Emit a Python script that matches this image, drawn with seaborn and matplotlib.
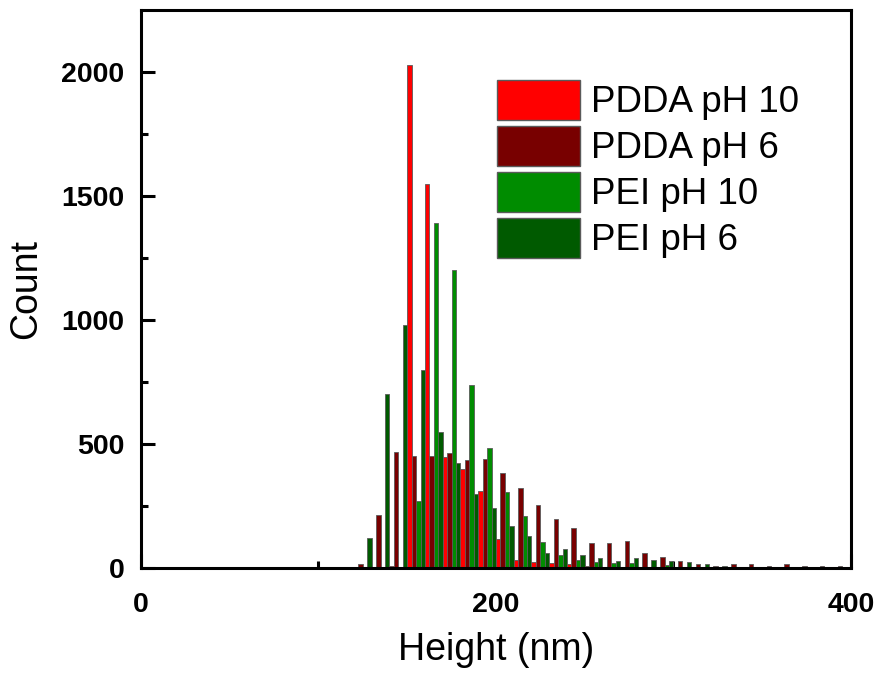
import numpy as np
import pandas as pd
import matplotlib
matplotlib.use("Agg")
import matplotlib.pyplot as plt
from matplotlib.patches import Patch
import seaborn as sns

# ---- data ----
bin_left = [120, 130, 140, 150, 160, 170, 180, 190, 200, 210, 220, 230, 240, 250,
            260, 270, 280, 290, 300, 310, 320, 330, 340, 350, 360, 370, 380, 390]
pdda_ph10 = [0, 0, 8, 2030, 1550, 449, 398, 312, 117, 32, 26, 22, 16, 8,
             0, 0, 0, 0, 0, 0, 0, 0, 0, 0, 0, 0, 0, 0]
pdda_ph6 = [15, 212, 466, 453, 452, 465, 435, 438, 382, 321, 255, 196, 161, 100,
            102, 107, 59, 46, 30, 18, 10, 15, 15, 7, 15, 7, 10, 7]
pei_ph10 = [0, 0, 0, 270, 1390, 1200, 738, 482, 308, 210, 106, 52, 32, 23,
            19, 19, 5, 12, 0, 0, 0, 0, 0, 0, 0, 0, 0, 0]
pei_ph6 = [122, 700, 980, 800, 550, 422, 298, 241, 169, 129, 62, 75, 54, 39,
           29, 39, 32, 28, 26, 15, 7, 5, 4, 4, 4, 4, 4, 0]
series_names = ["PDDA pH 10", "PDDA pH 6", "PEI pH 10", "PEI pH 6"]
series_colors = ["#FF0000", "#780000", "#008C00", "#005A00"]
bin_width = 10

rows = []
for name, vals in zip(series_names, [pdda_ph10, pdda_ph6, pei_ph10, pei_ph6]):
    for b, v in zip(bin_left, vals):
        rows.append({"Height": b + bin_width / 2, "Count": v, "Series": name})
df = pd.DataFrame(rows)

sns.set_theme(style="ticks")
plt.rcParams["font.family"] = ["Liberation Sans", "DejaVu Sans"]
plt.rcParams["text.color"] = "black"
plt.rcParams["axes.labelcolor"] = "black"
plt.rcParams["xtick.color"] = "black"
plt.rcParams["ytick.color"] = "black"

fig = plt.figure(figsize=(8.79, 6.76), dpi=100)
ax = fig.add_axes([141 / 879, 1 - 568 / 676, (851 - 141) / 879, (568 - 10) / 676])

sns.histplot(data=df, x="Height", weights="Count", hue="Series",
             hue_order=series_names, palette=series_colors,
             multiple="dodge", binwidth=bin_width, binrange=(120, 400),
             shrink=1, alpha=1, edgecolor="#5a5a5a", linewidth=0.6,
             legend=False, ax=ax)

ax.set_xlim(0, 400)
ax.set_ylim(0, 2250)
ax.set_xticks([0, 200, 400])
ax.set_xticks([100, 300], minor=True)
ax.set_yticks([0, 500, 1000, 1500, 2000])
ax.set_yticks([250, 750, 1250, 1750], minor=True)

for s in ax.spines.values():
    s.set_linewidth(2.2)
    s.set_color("black")
    s.set_visible(True)

ax.tick_params(which="major", direction="in", length=10, width=2.2,
               labelsize=20.5, colors="black")
ax.tick_params(axis="y", which="major", pad=12)
ax.tick_params(axis="x", which="major", pad=17)
ax.tick_params(which="minor", direction="in", length=5, width=2.2)
ax.tick_params(axis="both", which="both", top=False, right=False)
for lab in ax.get_xticklabels() + ax.get_yticklabels():
    lab.set_fontweight("bold")

ax.set_xlabel("Height (nm)", fontsize=27, labelpad=10, color="black")
ax.set_ylabel("Count", fontsize=27, labelpad=12, color="black")

handles = [Patch(facecolor=c, edgecolor="#5a5a5a", linewidth=1.0, label=n)
           for n, c in zip(series_names, series_colors)]
leg = ax.legend(handles=handles, loc="upper left",
                bbox_to_anchor=(497 / 879, 1 - 80 / 676),
                bbox_transform=fig.transFigure, frameon=False,
                fontsize=26.5, handlelength=2.26, handleheight=1.3,
                labelspacing=0.15, handletextpad=0.3, borderpad=0,
                borderaxespad=0)
for t in leg.get_texts():
    t.set_color("black")

fig.savefig("out.png", dpi=100)
